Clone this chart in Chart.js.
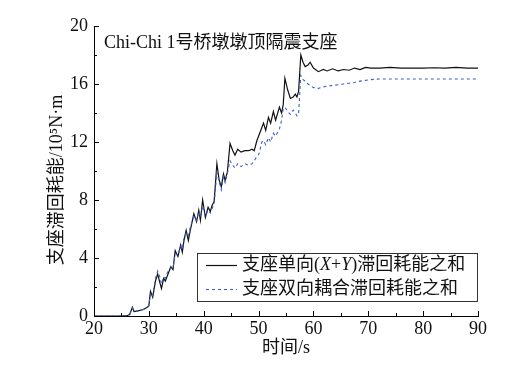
<!DOCTYPE html>
<html>
<head>
<meta charset="utf-8">
<script src="https://cdn.jsdelivr.net/npm/chart.js@4/dist/chart.umd.min.js"></script>
<style>
html,body{margin:0;padding:0;background:#fff;}
#wrap{width:527px;height:368px;position:relative;}
</style>
</head>
<body>
<div id="wrap"><canvas id="c" width="527" height="368"></canvas></div>
<script>
// ---- data ----
const chartTitle = "Chi-Chi 1号桥墩墩顶隔震支座";
const xAxisTitle = "时间/s";
const yAxisTitle = "支座滞回耗能/10⁵N·m";
const seriesNames = ["支座单向(X+Y)滞回耗能之和", "支座双向耦合滞回耗能之和"];
const xTickValues = [20, 30, 40, 50, 60, 70, 80, 90];
const yTickValues = [0, 4, 8, 12, 16, 20];

const timeS = [20,25,26,26.5,27,27.3,28,29,29.7,30,30.3,30.7,31.2,31.6,32,32.3,32.7,33,33.5,34,34.4,34.8,35.3,35.8,36.1,36.4,36.8,37.2,37.6,38.2,38.7,39.1,39.4,39.8,40.3,40.8,41.2,41.5,41.9,42.4,42.8,43.2,43.6,43.9,44.3,44.8,45.3,45.7,46.2,46.8,47.5,48.2,48.8,49.2,49.7,50.1,50.6,50.9,51.3,51.8,52.2,52.7,53.1,53.8,54.2,54.5,54.8,55.3,55.8,56.3,56.7,57.0,57.3,57.7,58.1,58.5,59.0,59.4,60.0,60.9,61.8,62.5,63.5,64.5,65.5,66.5,67.5,68.5,69.5,70.5,72,74,76,78,80,82,84,86,88,90];

const energyUni = [0,0,0.02,0.1,0.6,0.3,0.35,0.45,0.6,0.7,1.7,1.3,2.4,2.9,2.3,1.9,2.6,2.4,2.9,3.4,3.2,4.5,4.1,4.9,4.4,5.2,5.9,5.2,6.0,7.05,6.5,7.3,6.6,8.0,6.8,7.5,7.2,7.6,7.9,10.5,9.4,8.9,9.8,9.35,9.9,11.9,11.4,11.1,11.5,11.3,11.4,11.4,11.5,11.4,12.1,12.5,13.0,13.3,12.8,13.7,13.3,14.1,13.5,14.4,14.0,14.6,16.4,15.6,15.0,15.1,15.3,15.1,15.5,18.0,17.5,17.2,17.3,17.5,17.1,16.85,17.0,16.9,17.05,16.9,17.0,16.95,17.1,17.0,17.15,17.1,17.1,17.15,17.1,17.1,17.1,17.12,17.1,17.15,17.1,17.1];

const energyBi = [0,0,0.02,0.1,0.55,0.35,0.35,0.45,0.6,0.75,1.6,1.4,2.6,3.1,2.7,2.2,2.7,2.6,3.1,3.3,3.3,4.3,4.2,4.8,4.6,5.4,5.7,5.5,6.2,6.9,6.6,7.2,6.8,7.6,6.9,7.3,7.1,7.4,7.7,9.9,9.3,8.7,9.6,9.2,9.8,10.7,10.4,10.2,10.5,10.3,10.5,10.4,10.5,10.7,11.0,11.2,12.0,12.1,11.8,12.3,12.0,12.6,12.4,12.9,13.5,14.3,14.4,14.1,13.9,14.2,14.0,13.8,14.0,16.6,16.3,16.2,16.0,15.9,15.75,15.7,15.8,15.85,15.9,15.95,16.0,16.05,16.1,16.2,16.25,16.3,16.35,16.35,16.35,16.35,16.35,16.35,16.35,16.35,16.35,16.35];

// ---- styles ----
const SERIF = "'Liberation Serif','Noto Sans CJK SC',serif";
const LBL = "18px " + SERIF;
const BLACK = "#111111";
const BLUE = "#3d5fd0";

const ptsUni = timeS.map((t, i) => ({x: t, y: energyUni[i]}));
const ptsBi = timeS.map((t, i) => ({x: t, y: energyBi[i]}));

const decorPlugin = {
  id: 'decor',
  afterDraw(chart) {
    const ctx = chart.ctx;
    const xs = chart.scales.x, ys = chart.scales.y;
    const ca = chart.chartArea;
    ctx.save();
    // inward ticks
    ctx.strokeStyle = '#000';
    ctx.lineWidth = 1;
    ctx.beginPath();
    for (let v = xs.min; v <= xs.max + 1e-9; v += 5) {
      const px = Math.round(xs.getPixelForValue(v)) + 0.5;
      const len = (v % 10 === 0) ? 5 : 3;
      ctx.moveTo(px, ca.bottom);
      ctx.lineTo(px, ca.bottom - len);
    }
    for (let v = ys.min; v <= ys.max + 1e-9; v += 2) {
      const py = Math.round(ys.getPixelForValue(v)) + 0.5;
      const len = (v % 4 === 0) ? 5 : 3;
      ctx.moveTo(ca.left, py);
      ctx.lineTo(ca.left + len, py);
    }
    ctx.stroke();

    // chart title inside plot area
    ctx.fillStyle = '#111';
    ctx.font = LBL;
    ctx.textBaseline = 'middle';
    ctx.textAlign = 'left';
    ctx.fillText(chartTitle, ca.left + 10, 43);

    // axis titles
    ctx.textAlign = 'center';
    ctx.fillText(xAxisTitle, (ca.left + ca.right) / 2, 348);
    ctx.save();
    ctx.translate(57, 180);
    ctx.rotate(-Math.PI / 2);
    ctx.fillText(yAxisTitle, 0, 0);
    ctx.restore();

    // legend
    const bx = 197.5, by = 253.5, bw = 280, bh = 48;
    ctx.strokeStyle = '#333';
    ctx.lineWidth = 1;
    ctx.strokeRect(bx, by, bw, bh);
    const rows = [265, 289];
    const dsets = chart.data.datasets;
    rows.forEach((ry, i) => {
      const ds = dsets[i];
      ctx.beginPath();
      ctx.strokeStyle = ds.borderColor;
      ctx.lineWidth = ds.borderWidth;
      ctx.setLineDash(ds.borderDash || []);
      ctx.moveTo(206, ry + 0.5);
      ctx.lineTo(237, ry + 0.5);
      ctx.stroke();
      ctx.setLineDash([]);
    });
    ctx.textAlign = 'left';
    ctx.fillStyle = '#111';
    // entry 1 with italic X and Y
    const name1 = dsets[0].label;
    const parts = [];
    const open = name1.indexOf('('), close = name1.indexOf(')');
    parts.push([name1.slice(0, open + 1), false]);
    const inner = name1.slice(open + 1, close);
    for (const ch of inner) parts.push([ch, ch === 'X' || ch === 'Y']);
    parts.push([name1.slice(close), false]);
    let tx = 242;
    parts.forEach(([s, it]) => {
      ctx.font = (it ? 'italic ' : '') + LBL;
      ctx.fillText(s, tx, rows[0]);
      tx += ctx.measureText(s).width;
    });
    ctx.font = LBL;
    ctx.fillText(dsets[1].label, 242, rows[1]);
    ctx.restore();
  }
};

new Chart(document.getElementById('c'), {
  type: 'line',
  data: {
    datasets: [
      {label: seriesNames[0], data: ptsUni, borderColor: BLACK, borderWidth: 1.2, pointRadius: 0, tension: 0, fill: false, order: 2},
      {label: seriesNames[1], data: ptsBi, borderColor: BLUE, borderWidth: 1.1, borderDash: [3, 3], pointRadius: 0, tension: 0, fill: false, order: 1}
    ]
  },
  options: {
    responsive: false,
    animation: false,
    devicePixelRatio: 1,
    layout: {padding: {top: 26, right: 49, left: 0, bottom: 0}},
    plugins: {legend: {display: false}, tooltip: {enabled: false}, title: {display: false}},
    scales: {
      x: {
        type: 'linear', min: 20, max: 90,
        afterFit: s => { s.height = 52; },
        afterBuildTicks: s => { s.ticks = xTickValues.map(v => ({value: v})); },
        grid: {display: false, drawTicks: false},
        border: {display: true, color: '#000', width: 1},
        ticks: {color: '#111', font: {family: SERIF, size: 18}, padding: 2, maxRotation: 0}
      },
      y: {
        type: 'linear', min: 0, max: 20,
        afterFit: s => { s.width = 94; },
        afterBuildTicks: s => { s.ticks = yTickValues.map(v => ({value: v})); },
        grid: {display: false, drawTicks: false},
        border: {display: true, color: '#000', width: 1},
        ticks: {color: '#111', font: {family: SERIF, size: 18}, padding: 6}
      }
    }
  },
  plugins: [decorPlugin]
});
</script>
</body>
</html>
